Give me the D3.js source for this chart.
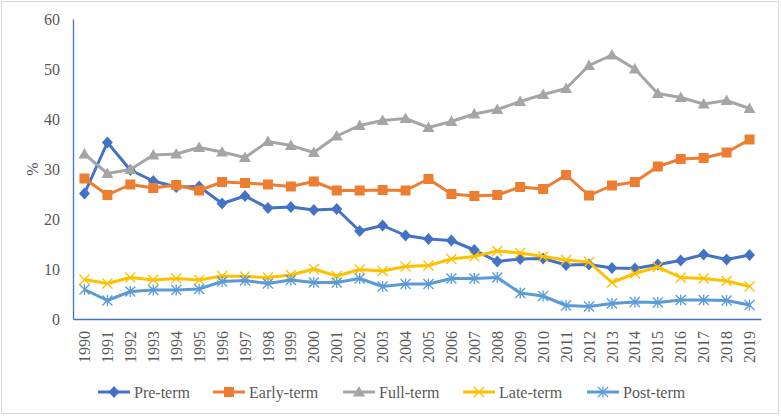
<!DOCTYPE html>
<html><head><meta charset="utf-8">
<script src="https://cdn.jsdelivr.net/npm/d3@7"></script>
<style>body{margin:0;background:#fff}svg{display:block}
svg text{font-family:"Liberation Serif","DejaVu Serif",serif !important;}</style>
</head><body><svg id="c" width="781" height="416"></svg>
<script>
const years = d3.range(1990, 2020).map(String);
const seriesNames = ["Pre-term","Early-term","Full-term","Late-term","Post-term"];
const preTerm = [25.1,35.3,29.8,27.6,26.4,26.5,23.1,24.6,22.2,22.4,21.8,22.0,17.6,18.7,16.7,16.0,15.7,13.8,11.5,12.0,12.1,10.8,10.9,10.2,10.1,10.9,11.7,12.9,11.9,12.8];
const earlyTerm = [28.1,24.8,26.9,26.2,26.8,25.7,27.4,27.2,26.9,26.5,27.5,25.7,25.7,25.8,25.7,28.0,25.0,24.6,24.8,26.4,26.0,28.8,24.7,26.7,27.4,30.5,32.0,32.2,33.3,35.9];
const fullTerm = [33.0,29.1,29.9,32.8,33.0,34.3,33.4,32.3,35.5,34.7,33.3,36.6,38.7,39.7,40.1,38.3,39.5,41.0,41.9,43.5,44.9,46.1,50.7,52.8,50.0,45.1,44.3,43.0,43.7,42.1];
const lateTerm = [7.9,7.1,8.3,7.8,8.1,7.8,8.6,8.5,8.3,8.8,10.0,8.6,9.9,9.6,10.5,10.7,12.0,12.5,13.6,13.2,12.5,11.8,11.4,7.3,9.1,10.4,8.3,8.1,7.6,6.5];
const postTerm = [5.9,3.7,5.5,5.8,5.8,6.0,7.5,7.7,7.1,7.8,7.3,7.3,8.1,6.5,7.0,7.0,8.1,8.1,8.3,5.2,4.6,2.7,2.5,3.1,3.4,3.3,3.8,3.8,3.7,2.8];
const yTicks = [0,10,20,30,40,50,60];
const colors = ["#4472C4","#ED7D31","#A5A5A5","#FFC000","#5B9BD5"];
const markers = ["diamond","square","triangle","x","star"];
const data = [preTerm, earlyTerm, fullTerm, lateTerm, postTerm];

const svg = d3.select("#c");
svg.append("rect").attr("x",1.5).attr("y",1.5).attr("width",777).attr("height",412)
  .attr("fill","#fff").attr("stroke","#D9D9D9").attr("stroke-width",1);

const L=73, R=761, T=19, B=319;
const x = d3.scaleBand().domain(years).range([L,R]);
const y = d3.scaleLinear().domain([0,60]).range([B,T]);
const font = "'Liberation Serif','DejaVu Serif',serif";
const txt = "#595959";

const ya = svg.append("g").attr("transform",`translate(${L},0)`)
  .call(d3.axisLeft(y).tickValues(yTicks).tickSize(0).tickPadding(13));
ya.select(".domain").attr("stroke","#4472C4").attr("stroke-width",1.3);
ya.selectAll("text").attr("font-family",font).attr("font-size",16).attr("fill",txt);

const xa = svg.append("g").attr("transform",`translate(0,${B})`)
  .call(d3.axisBottom(x).tickSize(0));
xa.select(".domain").attr("stroke","#4472C4").attr("stroke-width",1.3);
xa.selectAll("text").attr("font-family",font).attr("font-size",16).attr("fill",txt)
  .attr("transform","rotate(-90)").attr("text-anchor","end").attr("dy","0.35em")
  .attr("x",-12).attr("y",0);

svg.append("text").attr("transform","translate(32,169) rotate(-90)")
  .attr("text-anchor","middle").attr("dy","0.35em")
  .attr("font-family",font).attr("font-size",16).attr("fill",txt).text("%");

function drawMarker(g, type, color){
  if(type==="diamond") g.append("path").attr("d","M0,-6L5.5,0L0,6L-5.5,0Z").attr("fill",color);
  else if(type==="square") g.append("rect").attr("x",-5).attr("y",-5).attr("width",10).attr("height",10).attr("fill",color);
  else if(type==="triangle") g.append("path").attr("d","M0,-6L6,4.5L-6,4.5Z").attr("fill",color);
  else if(type==="x") g.append("path").attr("d","M-5,-5L5,5M-5,5L5,-5").attr("stroke",color).attr("stroke-width",1.3).attr("fill","none");
  else if(type==="star") g.append("path").attr("d","M-5,-5L5,5M-5,5L5,-5M0,-5.5L0,5.5").attr("stroke",color).attr("stroke-width",1.3).attr("fill","none");
}

const line = d3.line().x((d,i)=>x(years[i])+x.bandwidth()/2).y(d=>y(d));
data.forEach((vals,si)=>{
  const g = svg.append("g");
  g.append("path").attr("d",line(vals)).attr("fill","none").attr("stroke",colors[si])
    .attr("stroke-width",3).attr("stroke-linejoin","round");
  vals.forEach((v,i)=>{
    const m = g.append("g").attr("transform",`translate(${x(years[i])+x.bandwidth()/2},${y(v)})`);
    drawMarker(m, markers[si], colors[si]);
  });
});

const legX = [98,213,343,463,587];
const leg = svg.append("g");
seriesNames.forEach((n,i)=>{
  const g = leg.append("g").attr("transform",`translate(${legX[i]},392)`);
  g.append("line").attr("x1",0).attr("x2",32).attr("stroke",colors[i]).attr("stroke-width",3);
  const m = g.append("g").attr("transform","translate(16,0)");
  drawMarker(m, markers[i], colors[i]);
  g.append("text").attr("x",36).attr("dy","0.35em").attr("font-family",font)
    .attr("font-size",16).attr("fill",txt).text(n);
});
</script></body></html>
